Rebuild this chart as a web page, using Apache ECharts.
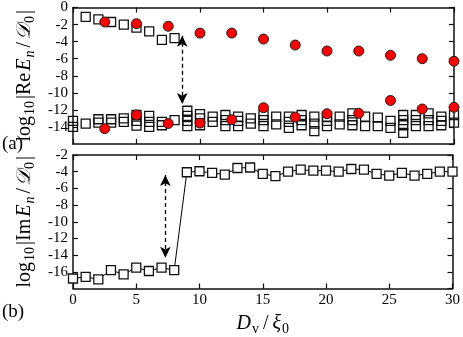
<!DOCTYPE html>
<html><head><meta charset="utf-8">
<script src="https://cdn.jsdelivr.net/npm/echarts@6/dist/echarts.min.js"></script>
<style>html,body{margin:0;padding:0;background:#fff}#c{width:463px;height:337px}</style>
</head><body><div id="c"></div>
<script>
// ---- data ----
const reSqUpperX = [1, 2, 3, 4, 5, 6, 7, 8];
const reSqUpperY = [-1.1, -1.4, -1.7, -2.0, -2.35, -2.8, -3.8, -3.6];
const reSqLowerX = [0,0, 1, 2,2, 3,3, 4,4, 5,5,5, 6,6,6, 7,7, 8, 9,9,9,9, 10,10,10, 11,11, 12,12,12, 13,13,13, 14,14, 15,15,15, 16,16, 17,17,17, 18,18,18, 19,19,19, 20,20,20, 21,21, 22,22,22, 23,23, 24,24, 25,25, 26,26,26,26, 27,27,27, 28,28,28, 29,29,29, 30,30];
const reSqLowerY = [-13.3,-14.0, -13.6, -13.1,-13.5, -13.1,-13.5, -13.0,-13.4, -12.6,-13.3,-13.85, -12.7,-13.4,-14.0, -13.4,-13.8, -13.2, -12.1,-12.7,-13.3,-13.9, -12.5,-13.0,-13.8, -12.8,-13.4, -12.6,-13.2,-13.9, -12.8,-13.3,-13.9, -13.0,-13.6, -12.6,-13.2,-13.9, -12.8,-13.7, -12.8,-13.4,-14.1, -12.6,-13.2,-13.8, -12.8,-13.6,-14.5, -12.8,-13.3,-13.9, -12.8,-13.7, -12.4,-13.2,-13.8, -12.8,-13.9, -12.9,-13.9, -13.3,-14.1, -12.6,-13.2,-13.8,-14.7, -12.6,-13.2,-13.9, -12.4,-13.2,-13.9, -12.8,-13.3,-13.8, -12.6,-13.5];
const circX = [2.5, 5, 7.5, 10, 12.5, 15, 17.5, 20, 22.5, 25, 27.5, 30];
const circUpperY = [-1.7, -1.9, -2.2, -3.0, -3.0, -3.7, -4.4, -5.1, -5.1, -5.6, -6.0, -6.3];
const circLowerY = [-14.2, -12.6, -13.6, -13.55, -13.15, -11.75, -12.85, -12.45, -12.4, -10.9, -11.9, -11.7];
const imX = [0,1,2,3,4,5,6,7,8,9,10,11,12,13,14,15,16,17,18,19,20,21,22,23,24,25,26,27,28,29,30];
const imY = [-16.8,-16.6,-16.9,-15.8,-16.3,-15.5,-15.9,-15.5,-15.8,-4.07,-3.95,-4.15,-4.35,-3.56,-3.5,-4.26,-4.54,-4.0,-3.76,-3.88,-3.88,-4.0,-3.68,-3.76,-4.26,-4.46,-4.15,-4.46,-4.26,-4.0,-4.0];
const arrowTopX = 8.6, arrowTopY = [-3.3, -11.3];
const arrowBotX = 7.3, arrowBotY = [-4.4, -14.3];
const xTickLabels = ['0','5','10','15','20','25','30'];

// ---- chart ----
const FF = 'Liberation Serif';
const pairs = (xs, ys) => xs.map((x, i) => [x, ys[i]]);
const TF = 20;
const rich = {
  n: {fontFamily: FF, fontSize: TF, lineHeight: 24, padding: [0, 1, 0, 1], color: '#000'},
  i: {fontFamily: FF, fontSize: TF, lineHeight: 24, padding: [0, 1, 0, 1], fontStyle: 'italic', color: '#000'},
  s: {fontFamily: FF, fontSize: 14, lineHeight: 14, padding: [11, 1, 0, 0], color: '#000'},
  si: {fontFamily: FF, fontSize: 14, lineHeight: 14, padding: [11, 2, 0, 0], fontStyle: 'italic', color: '#000'},
  g: {fontFamily: FF, fontSize: TF, lineHeight: 24, padding: [0, 3, 0, 3], color: '#000'}
};
const axLine = {show: true, onZero: false, lineStyle: {color: '#111', width: 1.5}};
const tick = {show: true, inside: true, length: 5, lineStyle: {color: '#111', width: 1.2}};
function xAx(grid, pos, labels, extra) {
  return Object.assign({
    type: 'value', gridIndex: grid, position: pos, min: 0, max: 30, interval: 5,
    axisLine: axLine, axisTick: tick, splitLine: {show: false},
    axisLabel: {show: labels, fontFamily: FF, fontSize: 15, color: '#000', margin: 4,
      formatter: v => xTickLabels[xTickLabels.indexOf(String(v))] || String(v)}
  }, extra || {});
}
function yAx(grid, pos, min, max, labels, extra) {
  return Object.assign({
    type: 'value', gridIndex: grid, position: pos, min: min, max: max, interval: 2,
    axisLine: axLine, axisTick: tick, splitLine: {show: false},
    axisLabel: {show: labels, showMinLabel: false, fontFamily: FF, fontSize: 15, color: '#000', margin: 5}
  }, extra || {});
}
const sq = {symbol: 'rect', symbolSize: 9};
const option = {
  animation: false,
  backgroundColor: '#fff',
  grid: [
    {left: 73, right: 9, top: 7, height: 137},
    {left: 73, right: 9, top: 155, height: 137}
  ],
  xAxis: [
    xAx(0, 'bottom', false),
    xAx(0, 'top', false),
    xAx(1, 'bottom', true, {name: '{i|D}{s|v}{g|/}{i|ξ}{s|0}', nameLocation: 'middle', nameGap: 23,
      nameTextStyle: {rich: rich}}),
    xAx(1, 'top', false)
  ],
  yAxis: [
    yAx(0, 'left', -16, 0, true, {name: '{n|log}{s|10}{n||Re}{i|E}{si|n}{n|/}{i|𝒟}{s|0}{n||}', nameLocation: 'middle', nameGap: 29,
      nameTextStyle: {rich: rich}}),
    yAx(0, 'right', -16, 0, false),
    yAx(1, 'left', -18, -2, true, {name: '{n|log}{s|10}{n||Im}{i|E}{si|n}{n|/}{i|𝒟}{s|0}{n||}', nameLocation: 'middle', nameGap: 29,
      nameTextStyle: {rich: rich}}),
    yAx(1, 'right', -18, -2, false)
  ],
  series: [
    {type: 'scatter', xAxisIndex: 0, yAxisIndex: 0, data: pairs(reSqLowerX, reSqLowerY), ...sq,
      itemStyle: {color: 'rgba(255,255,255,0)', borderColor: '#111', borderWidth: 1.3, opacity: 1}},
    {type: 'scatter', xAxisIndex: 0, yAxisIndex: 0, data: pairs(reSqUpperX, reSqUpperY), ...sq,
      itemStyle: {color: 'rgba(255,255,255,0)', borderColor: '#111', borderWidth: 1.3, opacity: 1},
      markLine: {silent: true, symbol: ['arrow', 'arrow'], symbolSize: [8, 11], label: {show: false},
        lineStyle: {color: '#000', width: 1.3, type: [4, 3]},
        data: [[{coord: [arrowTopX, arrowTopY[0]]}, {coord: [arrowTopX, arrowTopY[1]]}]]}},
    {type: 'scatter', xAxisIndex: 0, yAxisIndex: 0, data: pairs(circX, circUpperY).concat(pairs(circX, circLowerY)),
      symbol: 'circle', symbolSize: 10, itemStyle: {color: '#f00', borderColor: '#222', borderWidth: 1, opacity: 1}},
    {type: 'line', xAxisIndex: 2, yAxisIndex: 2, data: pairs(imX, imY), ...sq, showAllSymbol: true,
      lineStyle: {color: '#000', width: 1}, itemStyle: {color: '#fff', borderColor: '#111', borderWidth: 1.3},
      markLine: {silent: true, symbol: ['arrow', 'arrow'], symbolSize: [8, 11], label: {show: false},
        lineStyle: {color: '#000', width: 1.3, type: [4, 3]},
        data: [[{coord: [arrowBotX, arrowBotY[0]]}, {coord: [arrowBotX, arrowBotY[1]]}]]}}
  ],
  graphic: [
    {type: 'text', left: 2, top: 135, style: {text: '(a)', font: '19px "Liberation Serif"', fill: '#000'}},
    {type: 'text', left: 2, top: 303, style: {text: '(b)', font: '19px "Liberation Serif"', fill: '#000'}}
  ]
};
const chart = echarts.init(document.getElementById('c'), null, {renderer: 'canvas'});
chart.setOption(option);
</script>
</body></html>
